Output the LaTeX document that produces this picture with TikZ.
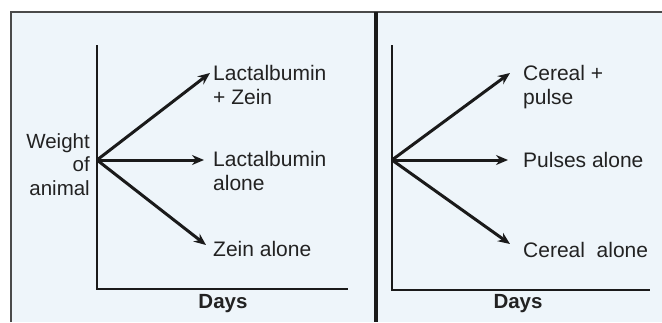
\documentclass[tikz,border=0pt]{standalone}
\usepackage{fontspec}
\setmainfont{Liberation Sans}
\usetikzlibrary{arrows.meta}
\definecolor{panel}{HTML}{EEF5FA}
\definecolor{ink}{HTML}{1A1A1A}
\definecolor{txt}{HTML}{222222}
\definecolor{frame}{HTML}{4A4A4A}
\tikzset{
  axis/.style={draw=ink, line width=2.3pt},
  growth/.style={draw=ink, line width=3pt, -{Stealth[length=12pt,width=10pt]}},
  lbl/.style={inner sep=0pt, text=txt, align=left, anchor=north west,
    font=\fontsize{21}{24}\selectfont},
  ylbl/.style={inner sep=0pt, text=txt, align=right, anchor=north east,
    font=\fontsize{20.5}{23.5}\selectfont},
  xlbl/.style={inner sep=0pt, text=txt, anchor=base,
    font=\fontsize{20.5}{24}\selectfont\bfseries},
}
\begin{document}
\begin{tikzpicture}[x=1pt,y=-1pt]
\useasboundingbox (0,0) rectangle (662,322);
\fill[white] (0,0) rectangle (662,322);
\fill[panel] (11,12) rectangle (662,322);
\draw[frame, line width=1.3pt] (11,322) -- (11,12) -- (662,12);
\draw[ink, line width=4pt] (376,12) -- (376,322);

% left graph
\coordinate (LO) at (97,160);
\coordinate (Ltop) at (97,45);
\coordinate (Lcorner) at (97,289);
\coordinate (Lend) at (348,289);
\coordinate (Lt1) at (210,73);
\coordinate (Lt2) at (204,160);
\coordinate (Lt3) at (206,245);
\draw[axis] (Ltop) -- (Lcorner) -- (Lend);
\draw[growth] (LO) -- (Lt1);
\draw[growth] (LO) -- (Lt2);
\draw[growth] (LO) -- (Lt3);
\node[lbl] (la1) at (213,64.7) {Lactalbumin\\+ Zein};
\node[lbl] (la2) at (213,150.7) {Lactalbumin\\alone};
\node[lbl] (la3) at (213,240.7) {Zein alone};
\node[ylbl] (wt) at (90,133) {Weight\\of\\animal};
\node[xlbl] (d1) at (223,308) {Days};

% right graph
\coordinate (RO) at (392,160);
\coordinate (Rtop) at (392,45);
\coordinate (Rcorner) at (392,290);
\coordinate (Rend) at (650,290);
\coordinate (Rt1) at (510,73);
\coordinate (Rt2) at (508,160);
\coordinate (Rt3) at (510,244);
\draw[axis] (Rtop) -- (Rcorner) -- (Rend);
\draw[growth] (RO) -- (Rt1);
\draw[growth] (RO) -- (Rt2);
\draw[growth] (RO) -- (Rt3);
\node[lbl] (ra1) at (523,64.7) {Cereal +\\pulse};
\node[lbl] (ra2) at (523,151.7) {Pulses alone};
\node[lbl] (ra3) at (523,241.7) {Cereal\ \ alone};
\node[xlbl] (d2) at (518,308) {Days};
\end{tikzpicture}
\end{document}
